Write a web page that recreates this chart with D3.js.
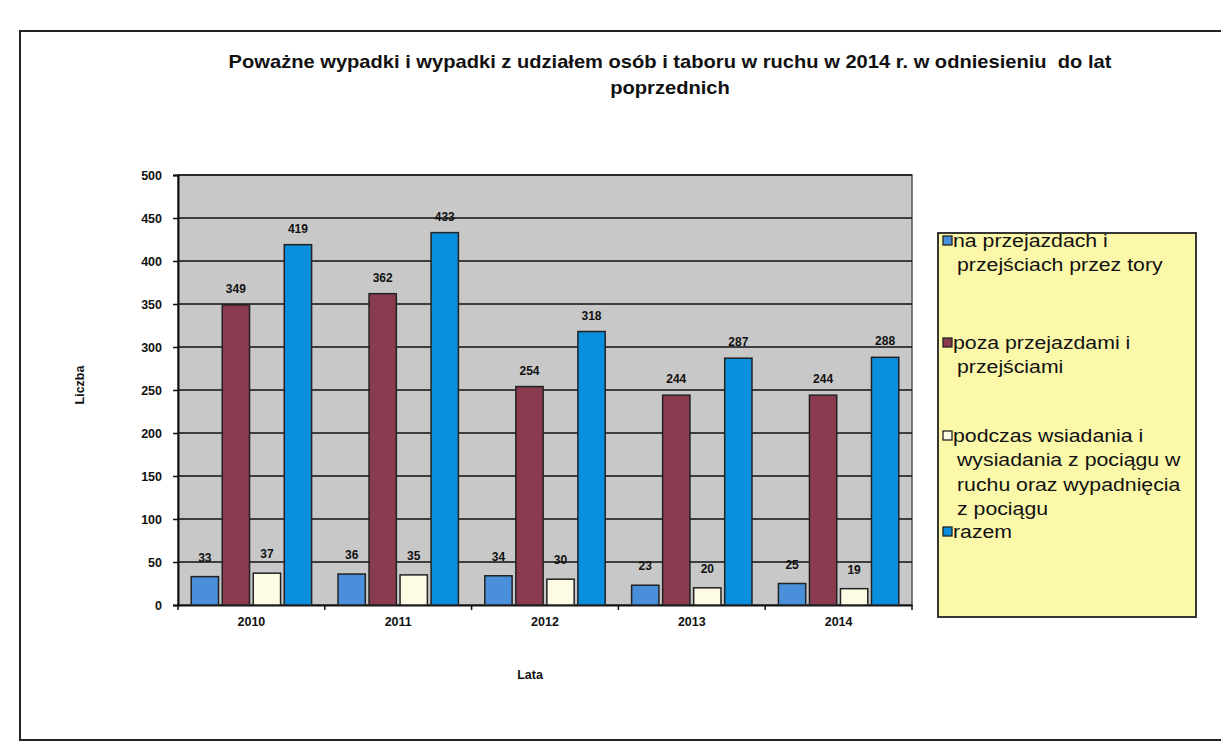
<!DOCTYPE html>
<html><head><meta charset="utf-8">
<script src="https://cdn.jsdelivr.net/npm/d3@7"></script>
<style>body{margin:0;background:#fff;} svg{display:block;font-family:"Liberation Sans",Arial,sans-serif;} text{white-space:pre;}</style>
</head><body>
<svg id="c" width="1221" height="742"></svg>
<script>
const years = ["2010","2011","2012","2013","2014"];
const seriesNames = [
  "na przejazdach i przejściach przez tory",
  "poza przejazdami i przejściami",
  "podczas wsiadania i wysiadania z pociągu w ruchu oraz wypadnięcia z pociągu",
  "razem"
];
const naPrzejazdach = [33, 36, 34, 23, 25];
const pozaPrzejazdami = [349, 362, 254, 244, 244];
const podczasWsiadania = [37, 35, 30, 20, 19];
const razem = [419, 433, 318, 287, 288];
const yTicks = [0, 50, 100, 150, 200, 250, 300, 350, 400, 450, 500];
const legendLines = [
  ["na przejazdach i", "przejściach przez tory"],
  ["poza przejazdami i", "przejściami"],
  ["podczas wsiadania i", "wysiadania z pociągu w", "ruchu oraz wypadnięcia", "z pociągu"],
  ["razem"]
];
const colors = ["#4a8fda", "#8a3b50", "#fdfbe4", "#0a8fdf"];
const allSeries = [naPrzejazdach, pozaPrzejazdami, podczasWsiadania, razem];

(function(){
const svg = d3.select("#c");
const FONT = "'Liberation Sans',Arial,sans-serif";
svg.append("rect").attr("x",20).attr("y",31).attr("width",1230).attr("height",709)
  .attr("fill","#fff").attr("stroke","#222").attr("stroke-width",2);

const title = svg.append("text").attr("text-anchor","middle").attr("font-weight","bold")
  .attr("font-size",17.5).attr("fill","#111").attr("transform","translate(670,0) scale(1.15,1)");
title.append("tspan").attr("x",0).attr("y",68).text("Poważne wypadki i wypadki z udziałem osób i taboru w ruchu w 2014 r. w odniesieniu  do lat");
title.append("tspan").attr("x",0).attr("y",94).text("poprzednich");

const pL = 178, pR = 912, pT = 175, pB = 605;
const x0 = d3.scaleBand().domain(years).range([pL, pR]).paddingInner(0.18).paddingOuter(0.09);
const x1 = d3.scaleBand().domain(d3.range(4)).range([0, x0.bandwidth()]).paddingInner(0.12);
const y = d3.scaleLinear().domain([0, 500]).range([pB, pT]);

svg.append("rect").attr("x",pL).attr("y",pT).attr("width",pR-pL).attr("height",pB-pT)
  .attr("fill","#c8c8c8").attr("stroke","#555").attr("stroke-width",1.5);

svg.append("g").selectAll("line").data(yTicks.filter(d=>d>0)).join("line")
  .attr("x1",pL).attr("x2",pR).attr("y1",d=>y(d)).attr("y2",d=>y(d))
  .attr("stroke","#111").attr("stroke-width",1.6);

const yAxis = svg.append("g").attr("transform",`translate(${pL},0)`)
  .call(d3.axisLeft(y).tickValues(yTicks).tickSize(5).tickPadding(11));
yAxis.select(".domain").attr("stroke","#111").attr("stroke-width",2);
yAxis.selectAll(".tick line").attr("stroke","#111").attr("stroke-width",1.5);
yAxis.selectAll("text").attr("font-size",12.5).attr("font-weight","bold").attr("fill","#111")
  .attr("font-family",FONT);

const xAxis = svg.append("g").attr("transform",`translate(0,${pB})`)
  .call(d3.axisBottom(x0).tickSize(0).tickPadding(12));
xAxis.select(".domain").attr("stroke","#111").attr("stroke-width",2);
xAxis.selectAll("text").attr("font-size",12.5).attr("font-weight","bold").attr("fill","#111")
  .attr("font-family",FONT);
const bounds = years.map(d => x0(d) - x0.step()*x0.paddingInner()/2).slice(1).concat([pR]);
svg.append("g").selectAll("line").data([pL].concat(bounds)).join("line")
  .attr("x1",d=>d).attr("x2",d=>d).attr("y1",pB).attr("y2",pB+5)
  .attr("stroke","#111").attr("stroke-width",1.5);

const groups = svg.append("g").selectAll("g").data(years).join("g")
  .attr("transform",d=>`translate(${x0(d)},0)`);
groups.selectAll("rect").data((d,i)=>allSeries.map((s,k)=>({k, v:s[i]}))).join("rect")
  .attr("x",d=>x1(d.k)).attr("width",x1.bandwidth())
  .attr("y",d=>y(d.v)).attr("height",d=>pB - y(d.v))
  .attr("fill",d=>colors[d.k]).attr("stroke","#222").attr("stroke-width",1.5);
groups.selectAll("text").data((d,i)=>allSeries.map((s,k)=>({k, v:s[i]}))).join("text")
  .attr("x",d=>x1(d.k)+x1.bandwidth()/2).attr("y",d=>y(d.v)-(d.v<50?15:12))
  .attr("text-anchor","middle").attr("font-size",12).attr("font-weight","bold").attr("fill","#111")
  .text(d=>d.v);

svg.append("text").attr("transform","translate(84,385) rotate(-90)").attr("text-anchor","middle")
  .attr("font-size",12.5).attr("font-weight","bold").attr("fill","#111").text("Liczba");
svg.append("text").attr("x",530).attr("y",679).attr("text-anchor","middle")
  .attr("font-size",12.5).attr("font-weight","bold").attr("fill","#111").text("Lata");

const lg = svg.append("g");
lg.append("rect").attr("x",938).attr("y",233).attr("width",258).attr("height",384)
  .attr("fill","#fbf8aa").attr("stroke","#222").attr("stroke-width",1.8);
const legendY = [247, 349, 442, 538];
legendLines.forEach((lines,k)=>{
  lg.append("rect").attr("x",943).attr("y",legendY[k]-11).attr("width",9).attr("height",9)
    .attr("fill",colors[k]).attr("stroke","#222").attr("stroke-width",1.3);
  const t = lg.append("text").attr("font-size",18.5).attr("fill","#111")
    .attr("transform","translate(953,0) scale(1.15,1)");
  lines.forEach((ln,j)=>{
    t.append("tspan").attr("x", j===0?0:3.5).attr("y",legendY[k]+j*24.5).text(ln);
  });
});
})();
</script>
</body></html>
